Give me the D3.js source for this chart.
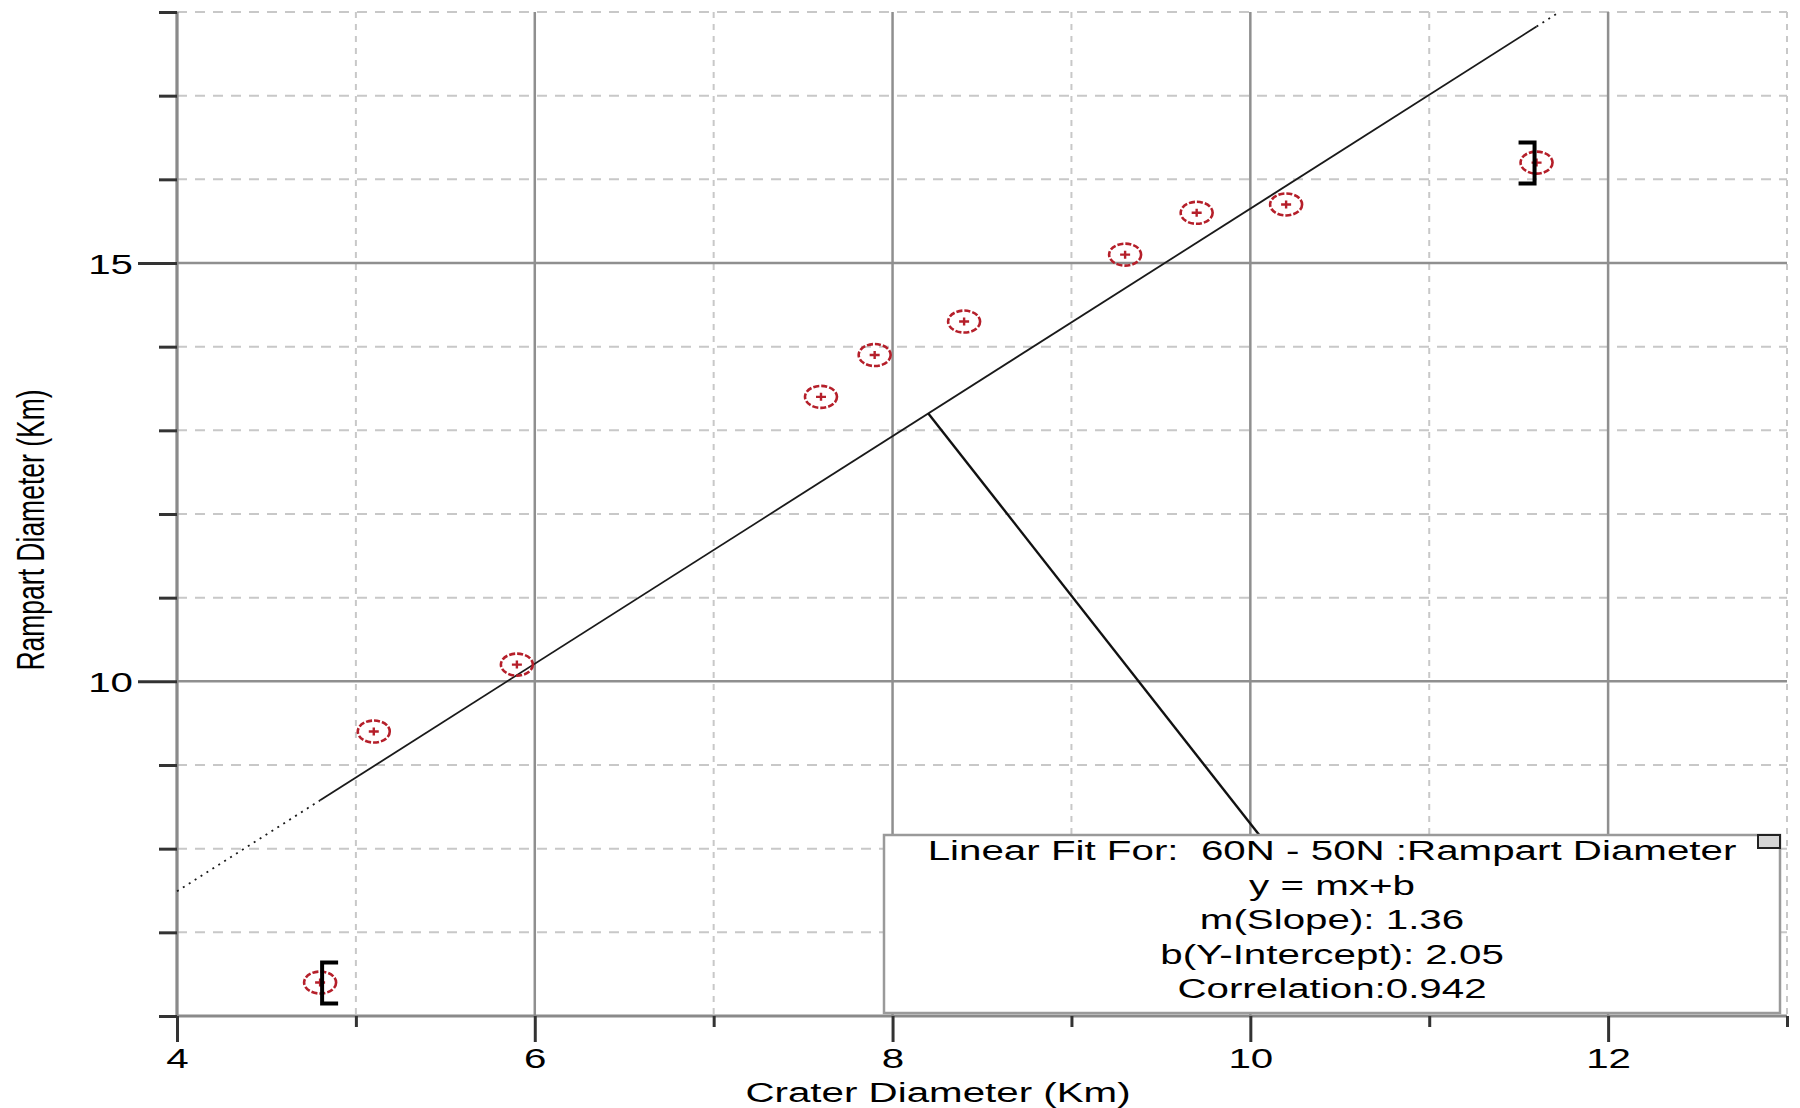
<!DOCTYPE html>
<html>
<head>
<meta charset="utf-8">
<script src="https://cdn.jsdelivr.net/npm/d3@7"></script>
<style>
  body { margin: 0; background: #ffffff; }
  svg text { font-family: "Liberation Sans", Arial, sans-serif; fill: #000; white-space: pre; }
</style>
</head>
<body>
<script>
// Crater vs rampart diameters (60N - 50N)
var craterDiam  = [4.8, 5.1, 5.9, 7.6, 7.9, 8.4, 9.3, 9.7, 10.2, 11.6];
var rampartDiam = [6.4, 9.4, 10.2, 13.4, 13.9, 14.3, 15.1, 15.6, 15.7, 16.2];

var fitSlope = 1.36;
var fitIntercept = 2.05;

var xMajorTicks = [4, 6, 8, 10, 12];
var xMinorTicks = [5, 7, 9, 11, 13];
var yMajorTicks = [10, 15];
var yMinorTicks = [6, 7, 8, 9, 11, 12, 13, 14, 16, 17, 18];

var legendLines = [
  "Linear Fit For:  60N - 50N :Rampart Diameter",
  "y = mx+b",
  "m(Slope): 1.36",
  "b(Y-Intercept): 2.05",
  "Correlation:0.942"
];

// fit leader: starts on fit line, ends at the legend box
var leaderX = [8.2, 10.05];

var width = 1800, height = 1108;
var plot = {left: 177, right: 1787, top: 12, bottom: 1016};
var stretch = 1.44;
var fontSize = 28;
var red = "#b51f2a";

var svg = d3.select("body").append("svg")
  .attr("width", width).attr("height", height);

svg.append("rect").attr("width", width).attr("height", height).attr("fill", "#fff");

var x = d3.scaleLinear().domain([4, 13]).range([plot.left, plot.right]);
var y = d3.scaleLinear().domain([6, 18]).range([plot.bottom, plot.top]);

// Grid
var grid = svg.append("g");

grid.selectAll("line.vminor").data(xMinorTicks).enter().append("line")
  .attr("x1", function(d) { return x(d); }).attr("x2", function(d) { return x(d); })
  .attr("y1", plot.top).attr("y2", plot.bottom)
  .attr("stroke", "#c8c8c8").attr("stroke-width", 2).attr("stroke-dasharray", "6,6");

grid.selectAll("line.hminor").data(yMinorTicks).enter().append("line")
  .attr("x1", plot.left).attr("x2", plot.right)
  .attr("y1", function(d) { return y(d); }).attr("y2", function(d) { return y(d); })
  .attr("stroke", "#c8c8c8").attr("stroke-width", 2).attr("stroke-dasharray", "10,8");

grid.selectAll("line.vmajor").data(xMajorTicks).enter().append("line")
  .attr("x1", function(d) { return x(d); }).attr("x2", function(d) { return x(d); })
  .attr("y1", plot.top).attr("y2", plot.bottom)
  .attr("stroke", "#8f8f8f").attr("stroke-width", 2.5);

grid.selectAll("line.hmajor").data(yMajorTicks).enter().append("line")
  .attr("x1", plot.left).attr("x2", plot.right)
  .attr("y1", function(d) { return y(d); }).attr("y2", function(d) { return y(d); })
  .attr("stroke", "#8f8f8f").attr("stroke-width", 2.5);

// Axis lines
svg.append("line").attr("x1", plot.left).attr("x2", plot.left)
  .attr("y1", plot.top).attr("y2", plot.bottom)
  .attr("stroke", "#8a8a8a").attr("stroke-width", 3);
svg.append("line").attr("x1", plot.left).attr("x2", plot.right)
  .attr("y1", plot.bottom).attr("y2", plot.bottom)
  .attr("stroke", "#8a8a8a").attr("stroke-width", 3);

// Axes (ticks)
function styleAxis(g) {
  g.select(".domain").remove();
  g.selectAll(".tick line").attr("stroke", "#333").attr("stroke-width", 3);
  g.selectAll(".tick text").attr("font-size", fontSize).attr("fill", "#000");
}

var xMinorAxis = svg.append("g").attr("transform", "translate(0," + plot.bottom + ")")
  .call(d3.axisBottom(x).tickValues(xMinorTicks).tickSize(11).tickFormat(""));
styleAxis(xMinorAxis);

var xMajorAxis = svg.append("g").attr("transform", "translate(0," + plot.bottom + ")")
  .call(d3.axisBottom(x).tickValues(xMajorTicks).tickSize(26).tickFormat(d3.format("d")));
styleAxis(xMajorAxis);
xMajorAxis.selectAll(".tick text")
  .attr("y", null).attr("dy", null)
  .attr("transform", "translate(0,52) scale(" + stretch + ",1)");

var yMinorAxis = svg.append("g").attr("transform", "translate(" + plot.left + ",0)")
  .call(d3.axisLeft(y).tickValues(yMinorTicks).tickSize(18).tickFormat(""));
styleAxis(yMinorAxis);

var yMajorAxis = svg.append("g").attr("transform", "translate(" + plot.left + ",0)")
  .call(d3.axisLeft(y).tickValues(yMajorTicks).tickSize(39).tickFormat(d3.format("d")));
styleAxis(yMajorAxis);
yMajorAxis.selectAll(".tick text")
  .attr("x", null).attr("dy", null)
  .attr("text-anchor", "end")
  .attr("transform", "translate(-44,10) scale(" + stretch + ",1)");

// Axis titles
svg.append("text")
  .attr("text-anchor", "middle")
  .attr("font-size", fontSize)
  .attr("transform", "translate(938,1102) scale(" + stretch + ",1)")
  .text("Crater Diameter (Km)");

svg.append("text")
  .attr("text-anchor", "middle")
  .attr("font-size", 26.5)
  .attr("transform", "translate(44,530) scale(" + stretch + ",1) rotate(-90)")
  .text("Rampart Diameter (Km)");

// Fit line: dotted outside the data range, solid inside
var xMin = d3.min(craterDiam), xMax = d3.max(craterDiam);
var xTop = (y.domain()[1] - fitIntercept) / fitSlope;
var fit = function(v) { return fitSlope * v + fitIntercept; };
var fitSegments = [
  {from: x.domain()[0], to: xMin, dash: "2,5"},
  {from: xMin, to: xMax, dash: null},
  {from: xMax, to: xTop, dash: "2,5"}
];
svg.selectAll("line.fit").data(fitSegments).enter().append("line")
  .attr("x1", function(d) { return x(d.from); })
  .attr("y1", function(d) { return y(fit(d.from)); })
  .attr("x2", function(d) { return x(d.to); })
  .attr("y2", function(d) { return y(fit(d.to)); })
  .attr("stroke", "#1a1a1a").attr("stroke-width", 1.8)
  .attr("stroke-dasharray", function(d) { return d.dash; });

// Legend box geometry
var box = {x: 884, y: 835, w: 896, h: 178};

// Leader line from fit line to legend
svg.append("line")
  .attr("x1", x(leaderX[0])).attr("y1", y(fit(leaderX[0])))
  .attr("x2", x(leaderX[1])).attr("y2", box.y)
  .attr("stroke", "#111").attr("stroke-width", 2.4);

// Data points
var pts = svg.selectAll("g.pt").data(craterDiam).enter().append("g")
  .attr("transform", function(d, i) { return "translate(" + x(d) + "," + y(rampartDiam[i]) + ")"; });
pts.append("ellipse")
  .attr("rx", 16).attr("ry", 11)
  .attr("fill", "none").attr("stroke", red).attr("stroke-width", 2.6)
  .attr("stroke-dasharray", "6,2");
pts.append("path")
  .attr("d", "M-5,0H5M0,-4V4")
  .attr("stroke", red).attr("stroke-width", 2.4);

// Range brackets at the min and max crater diameter
var iMin = craterDiam.indexOf(xMin), iMax = craterDiam.indexOf(xMax);
var brackets = [
  {cx: x(xMin) + 2, cy: y(rampartDiam[iMin]), dir: 1},
  {cx: x(xMax) - 2, cy: y(rampartDiam[iMax]), dir: -1}
];
svg.selectAll("path.bracket").data(brackets).enter().append("path")
  .attr("d", function(d) {
    return "M" + (d.cx + d.dir * 16) + "," + (d.cy - 20) +
           "H" + d.cx + "V" + (d.cy + 21) + "H" + (d.cx + d.dir * 16);
  })
  .attr("fill", "none").attr("stroke", "#000").attr("stroke-width", 4);

// Legend
svg.append("rect")
  .attr("x", box.x).attr("y", box.y).attr("width", box.w).attr("height", box.h)
  .attr("fill", "#fff").attr("stroke", "#9a9a9a").attr("stroke-width", 2.5);
svg.append("rect")
  .attr("x", box.x + box.w - 22).attr("y", box.y).attr("width", 22).attr("height", 13)
  .attr("fill", "#d6d6d6").attr("stroke", "#222").attr("stroke-width", 2);

svg.selectAll("text.legend").data(legendLines).enter().append("text")
  .attr("class", "legend")
  .attr("text-anchor", "middle")
  .attr("font-size", fontSize)
  .attr("transform", function(d, i) {
    return "translate(" + (box.x + box.w / 2) + "," + (860 + i * 34.5) + ") scale(" + stretch + ",1)";
  })
  .text(function(d) { return d; });
</script>
</body>
</html>
